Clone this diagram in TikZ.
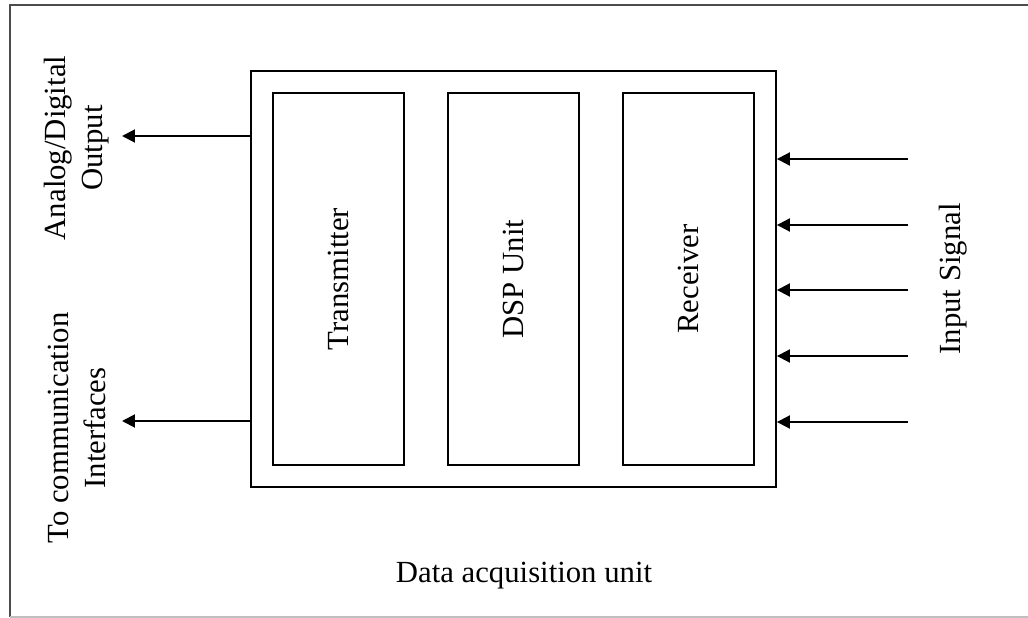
\documentclass[tikz,border=0pt]{standalone}
\usepackage{fontspec}
\setmainfont{Liberation Serif}
\usetikzlibrary{positioning,arrows.meta}
\begin{document}
\begin{tikzpicture}[x=0.02cm,y=-0.02cm,>={Triangle[length=2.6mm,width=2.6mm]},
  font=\fontsize{17.5}{21}\selectfont]
   \useasboundingbox (0,0) rectangle (1028,618);
   % 枠
   \draw[line width=1.4pt, black!70] (1040,5) -- (10,5) -- (10,617);
   \draw[line width=1.2pt, black!25] (10,617) -- (1040,617);

   % ブロック
   \node [draw, line width=1.1pt, minimum width=10.5cm, minimum height=8.32cm] (daq) at (513.5,279) {};
   \node [draw, line width=1.1pt, minimum width=2.62cm, minimum height=7.44cm] (dsp) at (daq.center) {};
   \node [draw, line width=1.1pt, minimum width=2.62cm, minimum height=7.44cm, left=0.84cm of dsp] (tx) {};
   \node [draw, line width=1.1pt, minimum width=2.62cm, minimum height=7.44cm, right=0.84cm of dsp] (rx) {};
   \node [rotate=90] at (tx) {Transmitter};
   \node [rotate=90] at (dsp) {DSP Unit};
   \node [rotate=90] at (rx) {Receiver};
   \node (daqlabel) at (524,576) {Data acquisition unit};

   % 出力
   \coordinate (out1) at (122,136);
   \coordinate (out2) at (122,421);
   \draw [->, line width=1.1pt] (out1 -| daq.west) -- (out1);
   \draw [->, line width=1.1pt] (out2 -| daq.west) -- (out2);
   \node [rotate=90, align=center] (outlabel) at (77,148) {Analog/Digital\\Output};
   \node [rotate=90, align=center] (comlabel) at (77,428) {To communication\\Interfaces};

   % 入力
   \foreach \i/\y in {1/159,2/225,3/290,4/356,5/422}{
      \coordinate (in\i) at (908,\y);
      \draw [->, line width=1.1pt] (in\i) -- (in\i -| daq.east);
   }
   \node [rotate=90] (inlabel) at (953,279) {Input Signal};
\end{tikzpicture}
\end{document}
